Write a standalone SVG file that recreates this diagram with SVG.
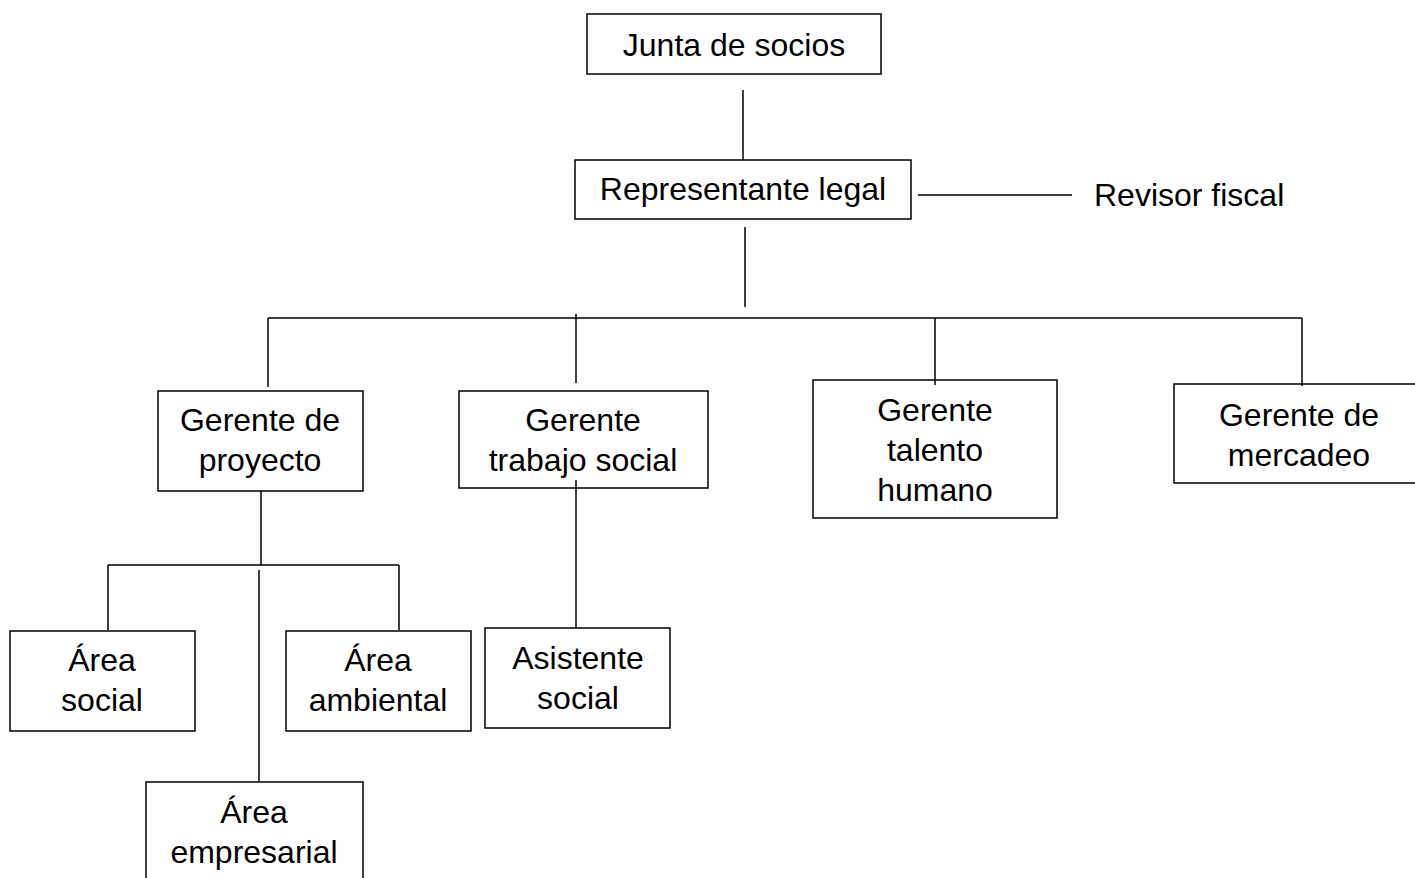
<svg xmlns="http://www.w3.org/2000/svg" width="1415" height="878" viewBox="0 0 1415 878">
<style>
.box{fill:#fff;stroke:#000;stroke-width:1.5}
.ln{stroke:#000;stroke-width:1.5;fill:none}
text{font-family:"Liberation Sans",Arial,sans-serif;font-size:32px;fill:#000}
.c{text-anchor:middle}
</style>
<rect width="1415" height="878" fill="#fff"/>
<g id="junta"><rect class="box" x="587" y="14" width="294" height="60"/><text class="c" x="734" y="56">Junta de socios</text></g>
<g id="representante"><rect class="box" x="575" y="160" width="336" height="59"/><text class="c" x="743" y="200">Representante legal</text></g>
<g id="revisor"><text x="1094" y="206">Revisor fiscal</text></g>
<g id="gerente-proyecto"><rect class="box" x="158" y="391" width="205" height="100"/><text class="c" x="260" y="431">Gerente de</text><text class="c" x="260" y="471">proyecto</text></g>
<g id="gerente-trabajo"><rect class="box" x="459" y="391" width="249" height="97"/><text class="c" x="583" y="431">Gerente</text><text class="c" x="583" y="471">trabajo social</text></g>
<g id="gerente-talento"><rect class="box" x="813" y="380" width="244" height="138"/><text class="c" x="935" y="421">Gerente</text><text class="c" x="935" y="461">talento</text><text class="c" x="935" y="501">humano</text></g>
<g id="gerente-mercadeo"><rect class="box" x="1174" y="384" width="250" height="99"/><text class="c" x="1299" y="426">Gerente de</text><text class="c" x="1299" y="466">mercadeo</text></g>
<g id="area-social"><rect class="box" x="10" y="631" width="185" height="100"/><text class="c" x="102" y="671">Área</text><text class="c" x="102" y="711">social</text></g>
<g id="area-ambiental"><rect class="box" x="286" y="631" width="185" height="100"/><text class="c" x="378" y="671">Área</text><text class="c" x="378" y="711">ambiental</text></g>
<g id="asistente-social"><rect class="box" x="485" y="628" width="185" height="100"/><text class="c" x="578" y="669">Asistente</text><text class="c" x="578" y="709">social</text></g>
<g id="area-empresarial"><rect class="box" x="146" y="782" width="217" height="110"/><text class="c" x="254" y="823">Área</text><text class="c" x="254" y="863">empresarial</text></g>
<g id="connectors">
<line class="ln" x1="743" y1="90" x2="743" y2="160"/>
<line class="ln" x1="745" y1="227" x2="745" y2="307"/>
<line class="ln" x1="918" y1="195" x2="1072" y2="195"/>
<line class="ln" x1="268" y1="318" x2="1302" y2="318"/>
<line class="ln" x1="268" y1="318" x2="268" y2="387"/>
<line class="ln" x1="576" y1="314" x2="576" y2="383"/>
<line class="ln" x1="935" y1="318" x2="935" y2="385"/>
<line class="ln" x1="1302" y1="318" x2="1302" y2="386"/>
<line class="ln" x1="261" y1="491" x2="261" y2="565"/>
<line class="ln" x1="108" y1="565" x2="399" y2="565"/>
<line class="ln" x1="108" y1="565" x2="108" y2="630"/>
<line class="ln" x1="399" y1="565" x2="399" y2="630"/>
<line class="ln" x1="259" y1="570" x2="259" y2="781"/>
<line class="ln" x1="576" y1="480" x2="576" y2="628"/>
</g>
</svg>
